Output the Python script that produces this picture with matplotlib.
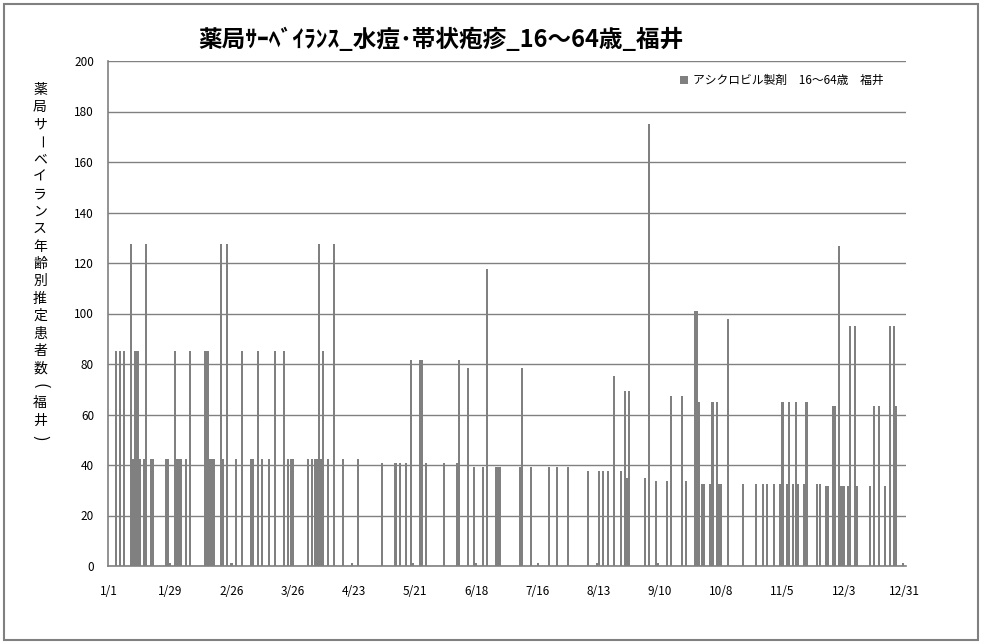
import matplotlib.pyplot as plt
from matplotlib.patches import Rectangle
import pandas as pd

plt.rcParams['font.family'] = ['Noto Sans CJK JP', 'DejaVu Sans']

# daily estimated patients (days not listed are 0)
YEAR = 2019
dates = ['1/4', '1/6', '1/8', '1/11', '1/12', '1/13', '1/14', '1/15', '1/17', '1/18',
         '1/20', '1/21', '1/27', '1/28', '1/29', '1/31', '2/1', '2/2', '2/3', '2/5',
         '2/7', '2/14', '2/15', '2/16', '2/17', '2/18', '2/21', '2/22', '2/24', '2/26',
         '2/28', '3/3', '3/7', '3/8', '3/10', '3/12', '3/15', '3/18', '3/22', '3/24',
         '3/25', '3/26', '4/2', '4/4', '4/5', '4/6', '4/7', '4/8', '4/9', '4/11',
         '4/14', '4/18', '4/22', '4/25', '5/6', '5/12', '5/14', '5/17', '5/19', '5/20',
         '5/23', '5/24', '5/26', '6/3', '6/9', '6/10', '6/14', '6/17', '6/18', '6/21',
         '6/23', '6/27', '6/28', '6/29', '7/8', '7/9', '7/13', '7/16', '7/21', '7/25',
         '7/30', '8/8', '8/12', '8/13', '8/15', '8/17', '8/20', '8/23', '8/25', '8/26',
         '8/27', '9/3', '9/5', '9/8', '9/9', '9/13', '9/15', '9/20', '9/22', '9/26',
         '9/27', '9/28', '9/29', '9/30', '10/3', '10/4', '10/6', '10/7', '10/8', '10/11',
         '10/18', '10/24', '10/27', '10/29', '11/1', '11/4', '11/5', '11/7', '11/8', '11/10',
         '11/11', '11/12', '11/15', '11/16', '11/21', '11/22', '11/25', '11/26', '11/28', '11/29',
         '12/1', '12/2', '12/3', '12/5', '12/6', '12/8', '12/9', '12/15', '12/17', '12/19',
         '12/22', '12/24', '12/26', '12/27', '12/30']
patients = [85, 85, 85, 127.5, 42.5, 85, 85, 42.5, 42.5, 127.5,
            42.5, 42.5, 42.5, 42.5, 1, 85, 42.5, 42.5, 42.5, 42.5,
            85, 85, 85, 42.5, 42.5, 42.5, 127.5, 42.5, 127.5, 1,
            42.5, 85, 42.5, 42.5, 85, 42.5, 42.5, 85, 85, 42.5,
            42.5, 42.5, 42.5, 42.5, 42.5, 42.5, 127.5, 42.5, 85, 42.5,
            127.5, 42.5, 1, 42.5, 40.8, 40.8, 40.8, 40.8, 81.7, 1,
            81.7, 81.7, 40.8, 40.8, 40.8, 81.7, 78.4, 39.2, 1, 39.2,
            117.6, 39.2, 39.2, 39.2, 39.2, 78.4, 39.2, 1, 39.2, 39.2,
            39.2, 37.6, 1, 37.6, 37.6, 37.6, 75.2, 37.6, 69.5, 34.8,
            69.5, 34.8, 175, 33.6, 1, 33.6, 67.2, 67.2, 33.6, 101,
            101, 65, 32.5, 32.5, 32.5, 65, 65, 32.5, 32.5, 98,
            32.5, 32.5, 32.5, 32.5, 32.5, 32.5, 65, 32.5, 65, 32.5,
            65, 32.5, 32.5, 65, 32.5, 32.5, 31.6, 31.6, 63.2, 63.2,
            126.7, 31.6, 31.6, 31.6, 95, 95, 31.6, 31.6, 63.2, 63.2,
            31.6, 95, 95, 63.2, 1]
tick_dates = ['1/1', '1/29', '2/26', '3/26', '4/23', '5/21', '6/18', '7/16',
              '8/13', '9/10', '10/8', '11/5', '12/3', '12/31']

title = '薬局ｻｰﾍﾞｲﾗﾝｽ_水痘･帯状疱疹_16～64歳_福井'
ylabel = '薬局サーベイランス年齢別推定患者数(福井)'
series_name = 'アシクロビル製剤　16～64歳　福井'


def day_of_year(s):
    return (pd.to_datetime(f'{YEAR}/{s}') - pd.Timestamp(f'{YEAR}-01-01')).days


x = [day_of_year(d) for d in dates]
ticks = [day_of_year(d) for d in tick_dates]

grey = '#808080'
fig = plt.figure(figsize=(9.82, 6.44), dpi=100)
ax = fig.add_axes([108 / 982, 1 - 566 / 644, 798 / 982, 505 / 644])

ax.bar(x, patients, width=0.95, color=grey, linewidth=0, zorder=3, label=series_name)

ax.set_xlim(-0.5, 364.5)
ax.set_ylim(0, 200)
ax.set_yticks(range(0, 201, 20))
ax.set_xticks(ticks)
ax.set_xticklabels(tick_dates)
ax.tick_params(axis='y', length=0, pad=10, labelsize=8.5)
ax.tick_params(axis='x', length=0, pad=14, labelsize=8.5)
ax.grid(axis='y', color=grey, linewidth=1.0, zorder=1)
ax.set_axisbelow(True)
for side in ['top', 'right']:
    ax.spines[side].set_visible(False)
for side in ['left', 'bottom']:
    ax.spines[side].set_color(grey)
    ax.spines[side].set_linewidth(1.2)

ax.legend(loc='upper right', bbox_to_anchor=(0.985, 0.995), frameon=False, fontsize=8.5,
          handlelength=0.7, handleheight=0.7, handletextpad=0.4)

fig.text(441 / 982, 1 - 40 / 644, title, ha='center', va='center',
         fontsize=17, fontweight='bold')

# vertical (stacked) y-axis title; long vowel mark and brackets are turned
turned = 'ー()'
for k, ch in enumerate(ylabel):
    fig.text(40 / 982, 1 - (90 + 17.4 * k) / 644, ch, ha='center', va='center',
             fontsize=12 if ch in '()' else 10,
             rotation=-90 if ch in turned else 0)

fig.patches.append(Rectangle((4 / 982, 4 / 644), 974 / 982, 636 / 644,
                             transform=fig.transFigure, fill=False,
                             edgecolor=grey, linewidth=1.5))

fig.savefig('out.png', dpi=100)
